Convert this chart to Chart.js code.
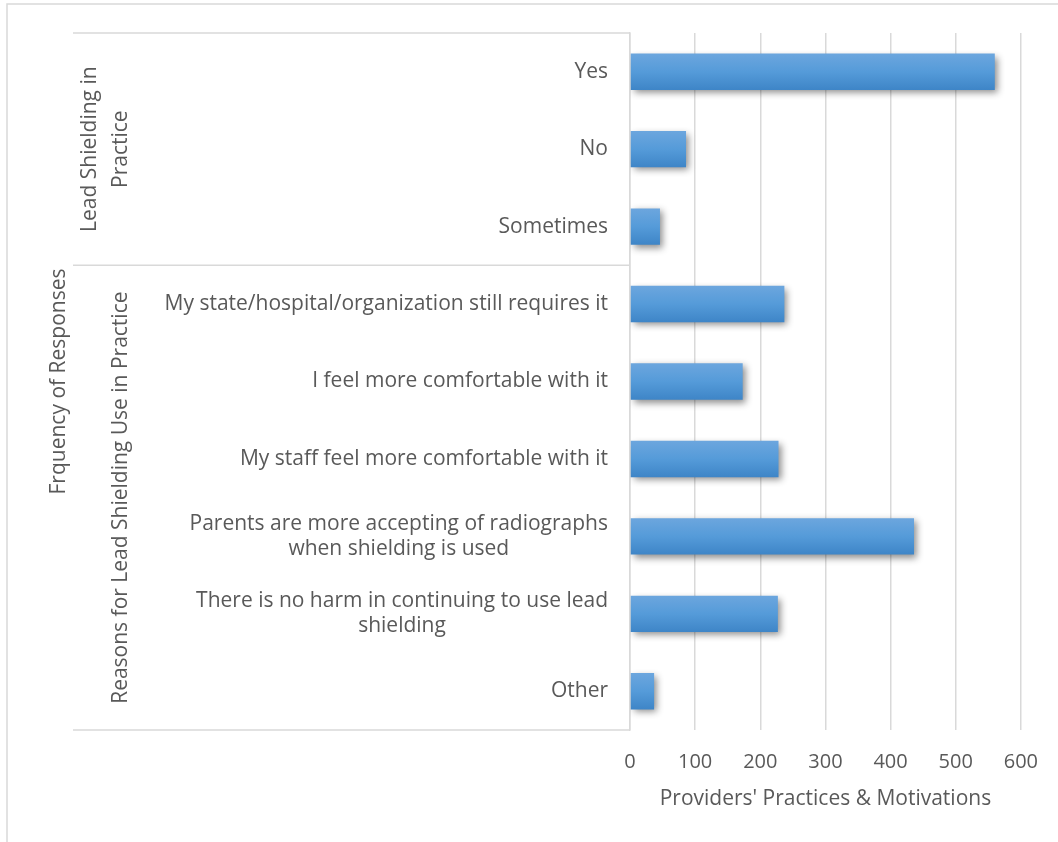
<!DOCTYPE html>
<html>
<head>
<meta charset="utf-8">
<script src="https://cdn.jsdelivr.net/npm/chart.js@4/dist/chart.umd.min.js"></script>
<style>
  html, body { margin: 0; padding: 0; background: #fff; }
</style>
</head>
<body>
<canvas id="shieldChart" width="1058" height="842"></canvas>
<script>
const categories = [
    ["Yes"],
    ["No"],
    ["Sometimes"],
    ["My state/hospital/organization still requires it"],
    ["I feel more comfortable with it"],
    ["My staff feel more comfortable with it"],
    ["Parents are more accepting of radiographs", "when shielding is used"],
    ["There is no harm in continuing to use lead", "shielding"],
    ["Other"],
];
const responseCounts = [560, 86, 46, 237, 173, 228, 436, 227, 37];
const groupNames = [["Lead Shielding in", "Practice"], ["Reasons for Lead Shielding Use in Practice"]];
const groupSizes = [3, 6];
const xTicks = [0, 100, 200, 300, 400, 500, 600];

const FONT = "'Open Sans', 'DejaVu Sans', sans-serif";
const TEXT = "#595959";
const LINE = "#d9d9d9";
const BAR_PCT = 0.47;

// draws the category labels, the group column and the outer frame
const groupAxisPlugin = {
    id: "groupAxis",
    beforeDraw(chart) {
        const ctx = chart.ctx;
        ctx.save();
        ctx.strokeStyle = LINE;
        ctx.lineWidth = 1.5;
        ctx.strokeRect(7, 4, 1200, 1000);
        ctx.restore();
    },
    beforeDatasetsDraw(chart) {
        const ctx = chart.ctx;
        ctx.save();
        ctx.shadowColor = "rgba(0,0,0,0.45)";
        ctx.shadowBlur = 7;
        ctx.shadowOffsetX = 3;
        ctx.shadowOffsetY = 3;
    },
    afterDatasetsDraw(chart) {
        chart.ctx.restore();
    },
    afterDraw(chart) {
        const ctx = chart.ctx;
        const yScale = chart.scales.y;
        const area = chart.chartArea;
        const step = (area.bottom - area.top) / categories.length;

        ctx.save();
        ctx.fillStyle = TEXT;
        ctx.font = "21px " + FONT;
        ctx.textBaseline = "middle";
        ctx.textAlign = "center";
        categories.forEach((lines, i) => {
            const y = yScale.getPixelForValue(i);
            const widest = Math.max(...lines.map(t => ctx.measureText(t).width));
            const cx = area.left - 22 - widest / 2;
            const lh = 25;
            lines.forEach((t, k) => {
                ctx.fillText(t, cx, y + (k - (lines.length - 1) / 2) * lh);
            });
        });

        // group separators
        ctx.strokeStyle = LINE;
        ctx.lineWidth = 1.5;
        let start = 0;
        const bounds = [area.top];
        groupSizes.forEach(n => {
            start += n;
            bounds.push(area.top + start * step);
        });
        bounds.forEach(yb => {
            ctx.beginPath();
            ctx.moveTo(73, yb);
            ctx.lineTo(area.left, yb);
            ctx.stroke();
        });

        // group names, rotated
        groupNames.forEach((lines, g) => {
            const cy = (bounds[g] + bounds[g + 1]) / 2;
            ctx.save();
            ctx.translate(121, cy);
            ctx.rotate(-Math.PI / 2);
            lines.forEach((t, k) => {
                ctx.fillText(t, 0, (k - (lines.length - 1)) * 31);
            });
            ctx.restore();
        });
        ctx.restore();
    },
};

const ctx = document.getElementById("shieldChart").getContext("2d");

new Chart(ctx, {
    type: "bar",
    data: {
        labels: categories,
        datasets: [{
            label: "Responses",
            data: responseCounts,
            backgroundColor: function (context) {
                const chart = context.chart;
                const yScale = chart.scales && chart.scales.y;
                const area = chart.chartArea;
                if (!yScale || !area || context.dataIndex === undefined) return "#5b9bd5";
                const y = yScale.getPixelForValue(context.dataIndex);
                const half = (area.bottom - area.top) / categories.length * BAR_PCT / 2;
                if (!isFinite(y) || !isFinite(half)) return "#5b9bd5";
                const g = chart.ctx.createLinearGradient(0, y - half, 0, y + half);
                g.addColorStop(0, "#6ca6de");
                g.addColorStop(0.5, "#559bd9");
                g.addColorStop(1, "#3e85c7");
                return g;
            },
            borderWidth: 0,
            barPercentage: BAR_PCT,
            categoryPercentage: 1,
        }],
    },
    options: {
        indexAxis: "y",
        responsive: false,
        animation: false,
        devicePixelRatio: 1,
        layout: {
            padding: {left: 36, top: 33, right: 37, bottom: 0},
        },
        plugins: {
            legend: {display: false},
            tooltip: {enabled: false},
        },
        scales: {
            x: {
                min: 0,
                max: 600,
                afterBuildTicks: function (scale) {
                    scale.ticks = xTicks.map(v => ({value: v}));
                },
                afterFit: function (scale) {
                    scale.height = 112;
                },
                grid: {color: LINE, lineWidth: 1.5, drawTicks: false},
                border: {display: false},
                ticks: {
                    color: TEXT,
                    font: {family: FONT, size: 20},
                    padding: 20,
                },
                title: {
                    display: true,
                    text: "Providers' Practices & Motivations",
                    color: TEXT,
                    font: {family: FONT, size: 21},
                    padding: {top: 0, bottom: 30},
                },
            },
            y: {
                afterFit: function (scale) {
                    scale.width = 630 - 36;
                },
                grid: {display: false},
                border: {display: true, color: LINE, width: 1.5},
                ticks: {display: false},
                title: {
                    display: true,
                    text: "Frquency of Responses",
                    color: TEXT,
                    font: {family: FONT, size: 21},
                    padding: {top: 10, bottom: 0},
                },
            },
        },
    },
    plugins: [groupAxisPlugin],
});
</script>
</body>
</html>
